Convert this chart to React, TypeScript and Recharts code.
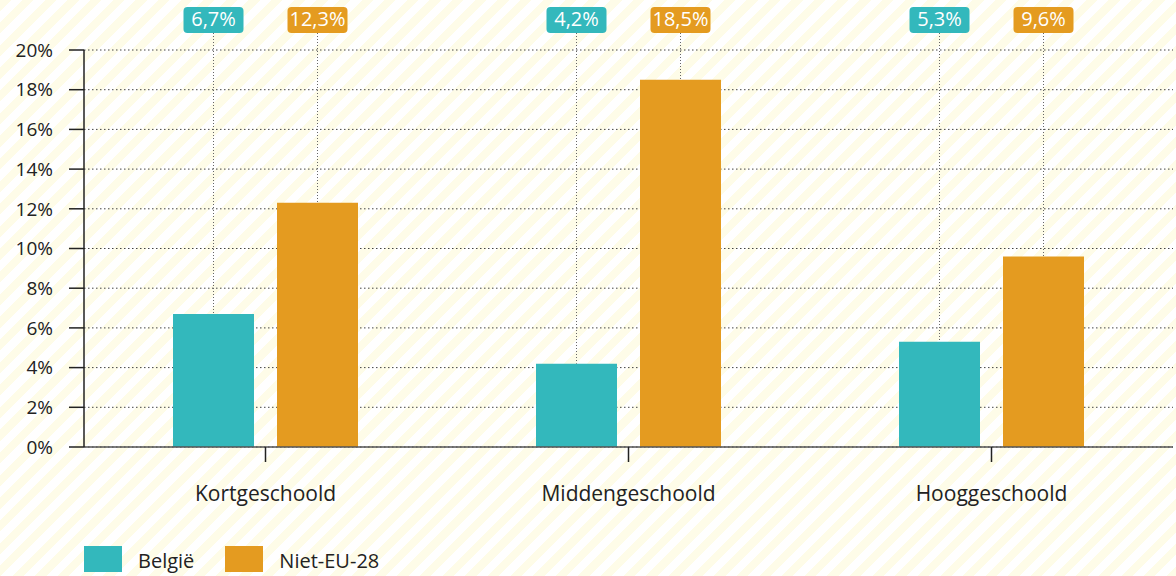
import React from "react";
import { BarChart, Bar, XAxis, YAxis, CartesianGrid, Legend, LabelList } from "recharts";

const categories = ["Kortgeschoold", "Middengeschoold", "Hooggeschoold"];
const belgie = [6.7, 4.2, 5.3];
const nietEU = [12.3, 18.5, 9.6];
const yTicks = [0, 2, 4, 6, 8, 10, 12, 14, 16, 18, 20];
const seriesNames = ["België", "Niet-EU-28"];
const colors = ["#33b8bc", "#e49b20"];

const data = categories.map((c, i) => ({ name: c, belgie: belgie[i], nietEU: nietEU[i] }));

const FONT = "'Open Sans', 'Noto Sans', sans-serif";

const fmt = (v: number) => v.toFixed(1).replace(".", ",") + "%";

const makeLabel = (color: string) => (props: any) => {
  const { x, y, width, value } = props;
  const cx = x + width / 2;
  const w = 60;
  const h = 26;
  const top = 7;
  return (
    <g>
      <line x1={cx} x2={cx} y1={top + h} y2={y} stroke="#666" strokeWidth={1} strokeDasharray="1 2" />
      <rect x={cx - w / 2} y={top} width={w} height={h} rx={4} ry={4} fill={color} />
      <text x={cx} y={top + h / 2 + 1} textAnchor="middle" dominantBaseline="middle" fill="#fff" fontSize={20} fontFamily={FONT}>
        {fmt(value)}
      </text>
    </g>
  );
};

const renderLegend = () => (
  <div style={{ display: "flex", alignItems: "center", fontFamily: FONT, fontSize: 20, lineHeight: "24px", color: "#222" }}>
    {seriesNames.map((n, i) => (
      <div key={n} style={{ display: "flex", alignItems: "center", marginRight: i === 0 ? 31 : 0 }}>
        <div style={{ width: 38, height: 26, background: colors[i], marginRight: 16 }} />
        <span style={{ position: "relative", top: 2 }}>{n}</span>
      </div>
    ))}
  </div>
);

export default function App() {
  return (
    <div
      style={{
        width: 1176,
        height: 576,
        position: "relative",
        overflow: "hidden",
        background:
          "repeating-linear-gradient(135deg, #fefce8 0px, #fefce8 8px, #ffffff 8px, #ffffff 16px)",
      }}
    >
      <style>{"body{margin:0}"}</style>
      <BarChart
        width={1176}
        height={576}
        data={data}
        margin={{ top: 50, right: 3, left: 0, bottom: 0 }}
        barCategoryGap={89}
        barGap={23}
      >
        <CartesianGrid vertical={false} stroke="#444" strokeDasharray="1.5 2.5" />
        <XAxis
          dataKey="name"
          height={129}
          axisLine={{ stroke: "#555", strokeWidth: 1.5 }}
          tickLine={{ stroke: "#222", strokeWidth: 1.5 }}
          tickSize={15}
          tick={{ fill: "#222", fontSize: 21, fontFamily: FONT, dy: 22 }}
        />
        <YAxis
          width={84}
          domain={[0, 20]}
          ticks={yTicks}
          interval={0}
          tickFormatter={(v: number) => v + "%"}
          axisLine={{ stroke: "#222", strokeWidth: 1.5 }}
          tickLine={{ stroke: "#222", strokeWidth: 1.5 }}
          tickSize={15}
          tickMargin={16}
          tick={{ fill: "#222", fontSize: 19, fontFamily: FONT }}
        />
        <Legend
          layout="horizontal"
          verticalAlign="middle"
          align="center"
          content={renderLegend}
          wrapperStyle={{ position: "absolute", top: 546, left: 84, width: "auto" }}
        />
        <Bar dataKey="belgie" name={seriesNames[0]} fill={colors[0]} isAnimationActive={false}>
          <LabelList dataKey="belgie" content={makeLabel(colors[0])} />
        </Bar>
        <Bar dataKey="nietEU" name={seriesNames[1]} fill={colors[1]} isAnimationActive={false}>
          <LabelList dataKey="nietEU" content={makeLabel(colors[1])} />
        </Bar>
      </BarChart>
    </div>
  );
}
